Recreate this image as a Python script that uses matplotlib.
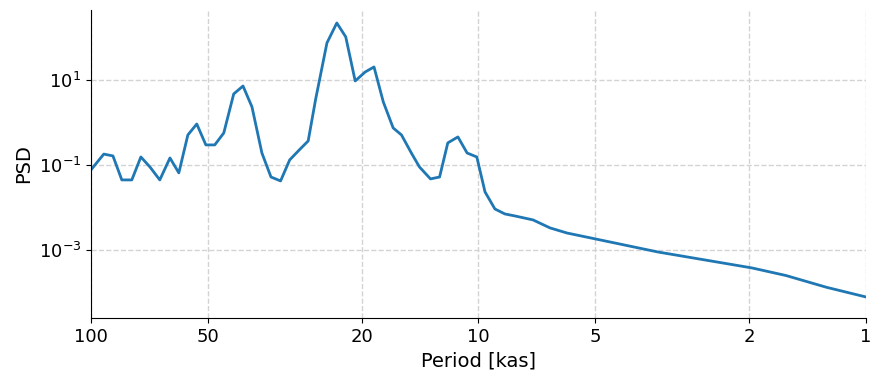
import numpy as np
import matplotlib
matplotlib.use("Agg")
import matplotlib.pyplot as plt
from matplotlib.ticker import NullLocator, FixedLocator, FixedFormatter


# Spectrum values
#-----------------------------------
period = [100, 92.6, 87.7, 83.2, 78.4, 74.3, 70.4, 66.4, 62.5, 59.3,
          56.2, 53.3, 50.5, 47.9, 45.4, 42.8, 40.5, 38.4, 36.2, 34.3,
          32.4, 30.7, 29.0, 27.5, 26.3, 24.6, 23.2, 22.0, 20.8, 19.6,
          18.6, 17.6, 16.6, 15.8, 14.9, 14.2, 13.3, 12.6, 12.0, 11.3,
          10.7, 10.1, 9.62, 9.07, 8.55, 8.05, 7.23, 6.54, 5.91, 5.0,
          3.45, 1.97, 1.61, 1.265, 1.0]
psd = [0.076, 0.18, 0.163, 0.0444, 0.0444, 0.154, 0.0897, 0.0444, 0.146, 0.065,
       0.508, 0.92, 0.296, 0.296, 0.566, 4.69, 7.2, 2.32, 0.191, 0.052,
       0.042, 0.131, 0.225, 0.367, 3.57, 74.3, 219, 103, 9.47, 15.4,
       20.2, 3.03, 0.743, 0.508, 0.191, 0.0897, 0.0469, 0.052, 0.33, 0.456,
       0.191, 0.154, 0.0232, 0.0092, 0.00703, 0.0063, 0.00508, 0.0033, 0.0025, 0.00182,
       0.000897, 0.000377, 0.00025, 0.000132, 0.000078]

xticks = [100, 50, 20, 10, 5, 2, 1]
yticks = [1e1, 1e-1, 1e-3]
ytick_labels = [r"$10^{1}$", r"$10^{-1}$", r"$10^{-3}$"]

# Plot
#-----------------------------------
fig = plt.figure(figsize=(8.82, 3.82), dpi=100)
ax = fig.add_axes([0.103, 0.1675, 0.879, 0.8065])

ax.plot(period, psd, color="tab:blue", linewidth=2)
ax.set_xscale("log")
ax.set_yscale("log")
ax.set_xlim(100, 1)
ax.set_ylim(2.5e-5, 444)

ax.xaxis.set_major_locator(FixedLocator(xticks))
ax.xaxis.set_major_formatter(FixedFormatter([str(t) for t in xticks]))
ax.xaxis.set_minor_locator(NullLocator())
ax.yaxis.set_major_locator(FixedLocator(yticks))
ax.yaxis.set_major_formatter(FixedFormatter(ytick_labels))
ax.yaxis.set_minor_locator(NullLocator())

ax.grid(True, which="major", linestyle="--", color="lightgray", linewidth=1)
ax.spines["top"].set_visible(False)
ax.spines["right"].set_visible(False)
ax.tick_params(labelsize=13)
ax.set_xlabel("Period [kas]", fontsize=14)
ax.set_ylabel("PSD", fontsize=14)

fig.savefig("out.png", dpi=100)
